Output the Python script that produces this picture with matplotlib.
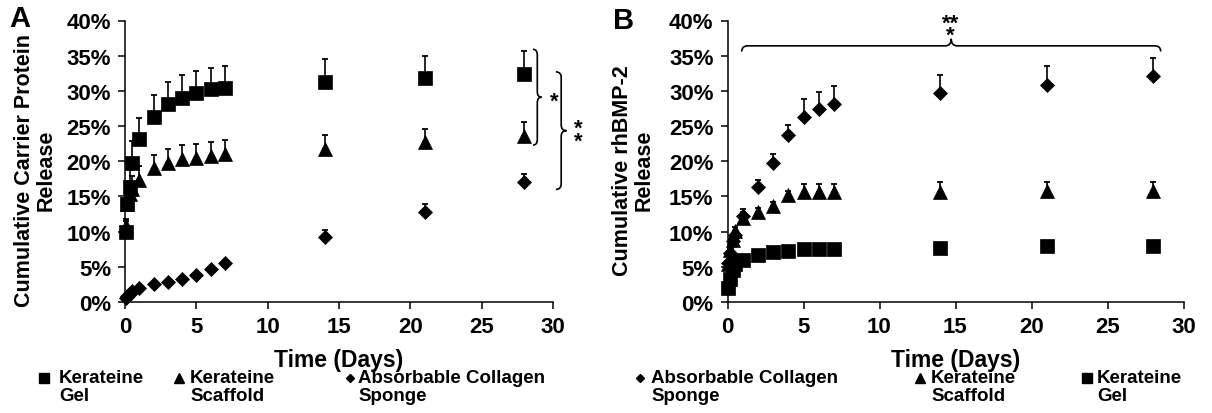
import numpy as np
import matplotlib
matplotlib.use('Agg')
from matplotlib import pyplot as plt
from matplotlib.path import Path
from matplotlib.patches import PathPatch
from matplotlib.lines import Line2D
from matplotlib.ticker import PercentFormatter, MultipleLocator

plt.rcParams['font.family'] = ['Liberation Sans', 'DejaVu Sans']
plt.rcParams['font.weight'] = 'bold'
plt.rcParams['axes.labelweight'] = 'bold'

# sampling times (days)
days = [0.04, 0.17, 0.33, 0.5, 1, 2, 3, 4, 5, 6, 7, 14, 21, 28]

# panel A: cumulative carrier protein release (%)
gelA = [9.9, 13.9, 16.3, 19.8, 23.1, 26.3, 28.1, 29.0, 29.7, 30.2, 30.4, 31.3, 31.9, 32.4]
gelA_err = [1.6, 2.0, 2.5, 3.1, 3.1, 3.1, 3.1, 3.2, 3.1, 3.1, 3.2, 3.2, 3.1, 3.3]
scafA = [10.8, 13.9, 15.4, 16.1, 17.4, 19.0, 19.8, 20.3, 20.5, 20.8, 21.0, 21.8, 22.7, 23.6]
scafA_err = [1.0, 1.5, 1.8, 1.8, 1.9, 1.9, 2.0, 2.0, 2.0, 1.9, 2.0, 2.0, 1.9, 2.0]
acsA = [0.5, 0.8, 1.2, 1.5, 2.0, 2.5, 2.9, 3.2, 3.8, 4.7, 5.6, 9.3, 12.8, 17.1]
acsA_err = [0.1, 0.1, 0.1, 0.1, 0.2, 0.2, 0.2, 0.2, 0.2, 0.3, 0.3, 1.0, 1.1, 1.1]

# panel B: cumulative rhBMP-2 release (%)
acsB = [5.5, 7.0, 8.6, 9.5, 12.2, 16.4, 19.8, 23.8, 26.3, 27.4, 28.2, 29.7, 30.9, 32.1]
acsB_err = [0.3, 0.4, 0.5, 0.6, 1.0, 0.9, 1.3, 1.4, 2.5, 2.4, 2.5, 2.6, 2.6, 2.6]
scafB = [5.4, 7.4, 8.8, 10.1, 12.0, 12.8, 13.7, 15.2, 15.7, 15.7, 15.7, 15.7, 15.8, 15.8]
scafB_err = [0.3, 0.3, 0.4, 0.5, 0.8, 0.5, 0.5, 0.6, 1.0, 1.0, 1.0, 1.3, 1.2, 1.3]
gelB = [2.0, 3.3, 4.5, 5.4, 6.0, 6.7, 7.1, 7.3, 7.5, 7.5, 7.6, 7.7, 7.9, 7.9]
gelB_err = [0.2] * 14

lab_gel = ('Kerateine', 'Gel')
lab_scaf = ('Kerateine', 'Scaffold')
lab_acs = ('Absorbable Collagen', 'Sponge')

W, H = 1212, 414
fig = plt.figure(figsize=(W / 100, H / 100), dpi=100)

def px_axes(x0, x1, y0, y1):
    return fig.add_axes([x0 / W, 1 - y1 / H, (x1 - x0) / W, (y1 - y0) / H])

def series(ax, y, err, marker, ms):
    ax.errorbar(days, y, yerr=[np.zeros(len(err)), err], fmt='none', ecolor='black',
                elinewidth=1.2, capsize=2.5, capthick=1.3, zorder=2, clip_on=False)
    ax.plot(days, y, linestyle='none', marker=marker, ms=ms, color='black',
            mec='black', mew=0.5, zorder=3, clip_on=False)

def style(ax, ylabel):
    ax.set_xlim(0, 30)
    ax.set_ylim(0, 40)
    ax.xaxis.set_major_locator(MultipleLocator(5))
    ax.yaxis.set_major_locator(MultipleLocator(5))
    ax.yaxis.set_major_formatter(PercentFormatter(decimals=0))
    ax.spines['right'].set_visible(False); ax.spines['top'].set_visible(False)
    for s in ('left', 'bottom'):
        ax.spines[s].set_linewidth(1.1)
    ax.tick_params(length=5, width=1.1, labelsize=16, pad=5)
    ax.set_xlabel('Time (Days)', fontsize=16.5, fontweight='bold')
    ax.xaxis.set_label_coords(0.5, -0.165)
    ax.set_ylabel(ylabel, fontsize=15.5, fontweight='bold', linespacing=1.05)
    ax.yaxis.set_label_coords(-0.16, 0.47)

def brace_v(ax, x, ylo, yhi, w, r):
    xm, xt, ym = x + w * 0.5, x + w, (ylo + yhi) / 2
    verts = [(x, yhi), (xm, yhi), (xm, yhi - r), (xm, ym + r), (xm, ym), (xt, ym),
             (xm, ym), (xm, ym - r), (xm, ylo + r), (xm, ylo), (x, ylo)]
    codes = [Path.MOVETO, Path.CURVE3, Path.CURVE3, Path.LINETO, Path.CURVE3, Path.CURVE3,
             Path.CURVE3, Path.CURVE3, Path.LINETO, Path.CURVE3, Path.CURVE3]
    ax.add_patch(PathPatch(Path(verts, codes), fc='none', ec='black', lw=1.2, clip_on=False))

def brace_h(ax, x0, x1, yb, yl, yt, r):
    xm = (x0 + x1) / 2
    verts = [(x0, yb), (x0, yl), (x0 + r, yl), (xm - r, yl), (xm, yl), (xm, yt),
             (xm, yl), (xm + r, yl), (x1 - r, yl), (x1, yl), (x1, yb)]
    codes = [Path.MOVETO, Path.CURVE3, Path.CURVE3, Path.LINETO, Path.CURVE3, Path.CURVE3,
             Path.CURVE3, Path.CURVE3, Path.LINETO, Path.CURVE3, Path.CURVE3]
    ax.add_patch(PathPatch(Path(verts, codes), fc='none', ec='black', lw=1.2, clip_on=False))

def legend_item(xm, xt, marker, ms, lines):
    fig.add_artist(Line2D([xm / W], [1 - 379 / H], transform=fig.transFigure, marker=marker,
                          ms=ms, color='black', linestyle='none'))
    for i, t in enumerate(lines):
        fig.text(xt / W, 1 - (379 + 18 * i) / H, t, fontsize=13.5, ha='left', va='center')

# ---- Panel A
axA = px_axes(125, 553, 21.5, 303)
series(axA, gelA, gelA_err, 's', 9.5)
series(axA, scafA, scafA_err, '^', 10)
series(axA, acsA, acsA_err, 'D', 7)
style(axA, 'Cumulative Carrier Protein\nRelease')
brace_v(axA, 28.6, 22.3, 35.9, 0.6, 0.8)
brace_v(axA, 30.2, 16.0, 32.7, 0.75, 0.8)
axA.text(30.1, 28.6, '*', fontsize=16, ha='center', va='center', clip_on=False)
axA.text(31.8, 24.7, '*', fontsize=16, ha='center', va='center', clip_on=False)
axA.text(31.8, 22.8, '*', fontsize=16, ha='center', va='center', clip_on=False)
fig.text(9 / W, 1 - 19 / H, 'A', fontsize=21, ha='left', va='center')

# ---- Panel B
axB = px_axes(727.5, 1183.5, 21.5, 303)
series(axB, acsB, acsB_err, 'D', 7)
series(axB, scafB, scafB_err, '^', 10)
series(axB, gelB, gelB_err, 's', 9.5)
style(axB, 'Cumulative rhBMP-2\nRelease')
brace_h(axB, 0.94, 28.5, 35.6, 36.4, 37.4, 0.4)
axB.text(14.65, 37.9, '*', fontsize=16, ha='center', va='center', clip_on=False)
axB.text(14.65, 39.6, '**', fontsize=16, ha='center', va='center', clip_on=False)
fig.text(613 / W, 1 - 21 / H, 'B', fontsize=21, ha='left', va='center')

# ---- legends
legend_item(44, 59, 's', 6.5, lab_gel)
legend_item(179, 190, '^', 7, lab_scaf)
legend_item(350, 358, 'D', 4.5, lab_acs)
legend_item(640, 651, 'D', 4.5, lab_acs)
legend_item(920, 931, '^', 7, lab_scaf)
legend_item(1087, 1097, 's', 6.5, lab_gel)

fig.savefig('out.png', dpi=100)
